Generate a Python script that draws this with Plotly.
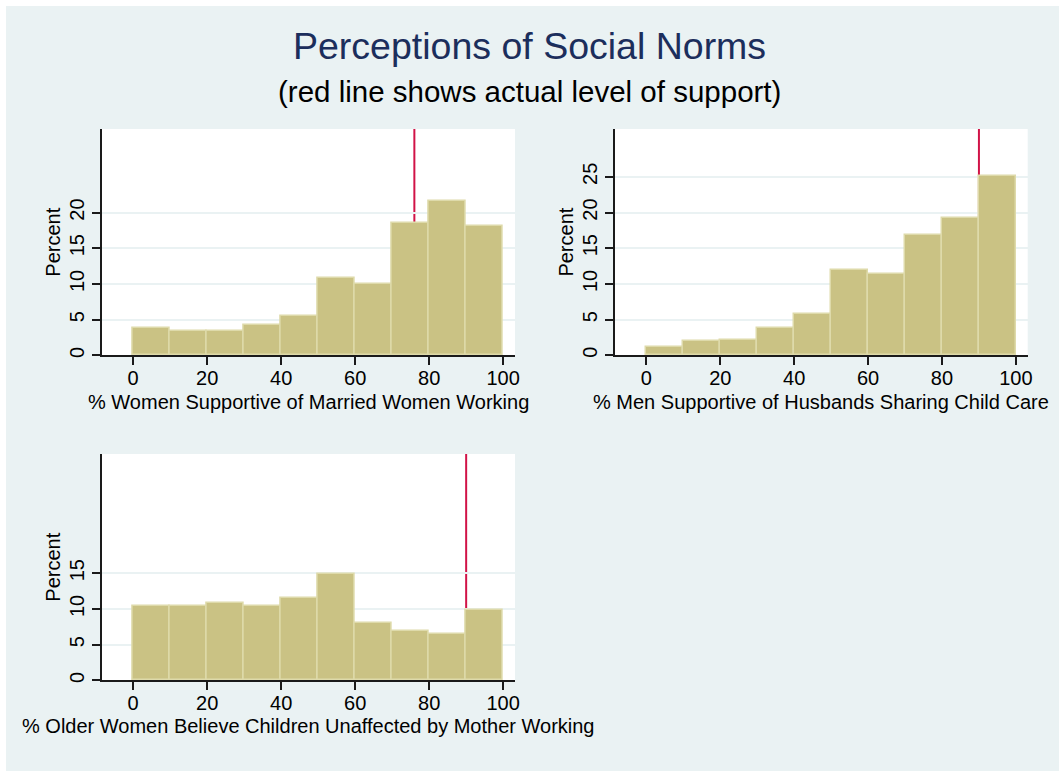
import plotly.graph_objects as go

# Histogram bins (percent of respondents, 10-point bins from 0 to 100)
bin_centers = [5, 15, 25, 35, 45, 55, 65, 75, 85, 95]

women_married_working = [3.79, 3.46, 3.46, 4.20, 5.47, 10.79, 9.95, 18.50, 21.60, 18.08]
men_sharing_childcare = [1.12, 1.96, 2.15, 3.79, 5.75, 12.00, 11.45, 16.80, 19.20, 25.05]
older_women_children = [10.36, 10.36, 10.78, 10.36, 11.53, 14.90, 7.97, 6.84, 6.47, 9.80]

# Actual level of support (red reference lines)
actual_support = [76, 90, 90]

panel_titles = [
    "% Women Supportive of Married Women Working",
    "% Men Supportive of Husbands Sharing Child Care",
    "% Older Women Believe Children Unaffected by Mother Working",
]
y_ticks = [[0, 5, 10, 15, 20], [0, 5, 10, 15, 20, 25], [0, 5, 10, 15]]
x_ticks = [0, 20, 40, 60, 80, 100]

W, H = 1059, 771
BG = "#EAF2F3"
BAR_FILL = "#CAC284"
BAR_EDGE = "#DEDAAA"
FONT = "Liberation Sans, Arial, sans-serif"

# Plot regions in pixels: (left, right, top, bottom)
regions = [
    (101.7, 515.0, 129.0, 355.3),
    (615.0, 1027.7, 129.0, 355.3),
    (101.7, 515.0, 454.0, 680.3),
]
# Vertical pixel position of each x-axis title
x_title_y = [402, 402, 726]

series = [women_married_working, men_sharing_childcare, older_women_children]

fig = go.Figure()
layout = dict(
    width=W,
    height=H,
    margin=dict(l=0, r=0, t=0, b=0),
    paper_bgcolor=BG,
    plot_bgcolor="white",
    showlegend=False,
    font=dict(family=FONT, color="black"),
    bargap=0,
)

shapes = []
annotations = []
for i, (vals, reg) in enumerate(zip(series, regions)):
    n = "" if i == 0 else str(i + 1)
    xa, ya = "x" + n, "y" + n
    left, right, top, bottom = reg
    fig.add_trace(go.Bar(
        x=bin_centers, y=vals, width=10,
        marker=dict(color=BAR_FILL, line=dict(color=BAR_EDGE, width=1.5)),
        xaxis=xa, yaxis=ya, hoverinfo="x+y",
    ))
    layout["xaxis" + n] = dict(
        domain=[left / W, right / W], anchor=ya,
        range=[-8.5, 103.2], tickvals=x_ticks,
        showgrid=False, zeroline=False,
        showline=True, linecolor="#1a1a1a", linewidth=1.5,
        ticks="outside", ticklen=8, tickwidth=1.5, tickcolor="#1a1a1a",
        tickfont=dict(size=20, family=FONT, color="black"),
        ticklabelstandoff=-4,
        automargin=False, fixedrange=True,
    )
    layout["yaxis" + n] = dict(
        domain=[1 - bottom / H, 1 - top / H], anchor=xa,
        range=[0, 31.7], tickvals=y_ticks[i], tickangle=-90,
        showgrid=True, gridcolor=BG, gridwidth=1.5, zeroline=False,
        showline=True, linecolor="#1a1a1a", linewidth=1.5,
        ticks="outside", ticklen=8, tickwidth=1.5, tickcolor="#1a1a1a",
        tickfont=dict(size=20, family=FONT, color="black"),
        title=dict(text="Percent", font=dict(size=20, family=FONT, color="black"), standoff=0),
        automargin=False, fixedrange=True,
    )
    annotations.append(dict(
        text=panel_titles[i], x=(left + right) / 2 / W, y=1 - x_title_y[i] / H,
        xref="paper", yref="paper", showarrow=False,
        xanchor="center", yanchor="middle",
        font=dict(size=20, family=FONT, color="black"),
    ))
    shapes.append(dict(
        type="line", xref=xa, yref=ya + " domain",
        x0=actual_support[i], x1=actual_support[i], y0=0, y1=1,
        line=dict(color="#D11347", width=2), layer="below",
    ))

# White strips along the top and left edge of the page
shapes.append(dict(type="rect", xref="paper", yref="paper", x0=0, x1=1, y0=1 - 6 / H, y1=1,
                   fillcolor="white", line=dict(width=0), layer="above"))
shapes.append(dict(type="rect", xref="paper", yref="paper", x0=0, x1=6 / W, y0=0, y1=1,
                   fillcolor="white", line=dict(width=0), layer="above"))
layout["shapes"] = shapes

annotations += [
    dict(text="Perceptions of Social Norms", x=0.5, y=1 - 46 / H, xref="paper", yref="paper",
         showarrow=False, xanchor="center", yanchor="middle",
         font=dict(size=37.5, family=FONT, color="#1C2E5C")),
    dict(text="(red line shows actual level of support)", x=0.5, y=1 - 91 / H, xref="paper", yref="paper",
         showarrow=False, xanchor="center", yanchor="middle",
         font=dict(size=29.5, family=FONT, color="black")),
]
layout["annotations"] = annotations

fig.update_layout(**layout)
fig.write_html("out.html")
